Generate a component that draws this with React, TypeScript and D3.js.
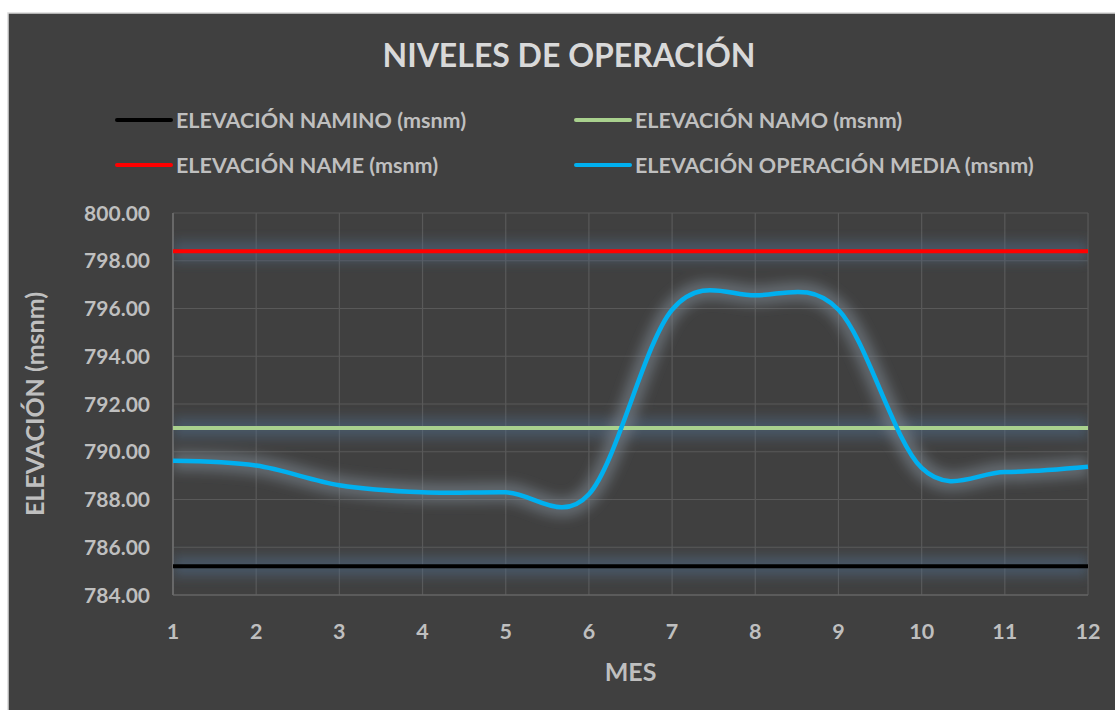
import React from "react";
import * as d3 from "d3";

// Monthly operating levels of the reservoir (msnm)
const months = [1, 2, 3, 4, 5, 6, 7, 8, 9, 10, 11, 12];
const elevMedia = [789.62, 789.42, 788.6, 788.3, 788.3, 788.22, 795.95, 796.55, 795.95, 789.32, 789.15, 789.37];
const elevNamino = months.map(() => 785.2);
const elevNamo = months.map(() => 791.0);
const elevName = months.map(() => 798.4);
const yTicks = [784, 786, 788, 790, 792, 794, 796, 798, 800];

const seriesList = [
  { name: "ELEVACIÓN NAMINO (msnm)", values: elevNamino, color: "#000000", glow: "#4f6b8a", smooth: false },
  { name: "ELEVACIÓN NAMO (msnm)", values: elevNamo, color: "#a9d18e", glow: "#4f6b8a", smooth: false },
  { name: "ELEVACIÓN NAME (msnm)", values: elevName, color: "#ff0000", glow: "#4f6b8a", smooth: false },
  { name: "ELEVACIÓN OPERACIÓN MEDIA (msnm)", values: elevMedia, color: "#00b0f0", glow: "#7d8894", smooth: true },
];

const W = 1115;
const H = 710;
const plot = { left: 173, right: 1088, top: 213, bottom: 595 };
const FONT = "Lato, 'Open Sans', sans-serif";
const TXT = "#bfbfbf";

export default function App() {
  const x = d3.scaleLinear().domain([1, 12]).range([plot.left, plot.right]);
  const y = d3.scaleLinear().domain([784, 800]).range([plot.bottom, plot.top]);

  const mkLine = (smooth: boolean) =>
    d3
      .line<number>()
      .x((_, i) => x(months[i]))
      .y((v) => y(v))
      .curve(smooth ? d3.curveCardinal.tension(0) : d3.curveLinear);

  // legend layout: two columns, two rows
  const legendPos = [
    { lx: 117, ly: 120 },
    { lx: 576, ly: 120 },
    { lx: 117, ly: 165 },
    { lx: 576, ly: 165 },
  ];

  return (
    <svg
      width={W}
      height={H}
      style={{ position: "fixed", left: 0, top: 0, background: "#ffffff" }}
    >
      <defs>
        <filter id="glowBlur" x="-10%" y="-200%" width="120%" height="500%">
          <feGaussianBlur stdDeviation="6" />
        </filter>
        <clipPath id="plotClip">
          <rect x={plot.left} y={0} width={plot.right - plot.left} height={H} />
        </clipPath>
      </defs>

      <rect x={8} y={13} width={W} height={H} fill="#404040" stroke="#d9d9d9" strokeWidth={1.5} />

      <text
        x={569}
        y={67}
        textAnchor="middle"
        fill="#d9d9d9"
        fontFamily={FONT}
        fontWeight={700}
        fontSize={32}
      >
        NIVELES DE OPERACIÓN
      </text>

      {/* legend */}
      {seriesList.map((s, i) => {
        const p = legendPos[i];
        return (
          <g key={s.name}>
            <line
              x1={p.lx}
              x2={p.lx + 54}
              y1={p.ly}
              y2={p.ly}
              stroke={s.color}
              strokeWidth={4}
              strokeLinecap="round"
            />
            <text
              x={p.lx + 59}
              y={p.ly + 8}
              fill={TXT}
              fontFamily={FONT}
              fontWeight={700}
              fontSize={21.5}
            >
              {s.name}
            </text>
          </g>
        );
      })}

      {/* grid */}
      {yTicks.map((t) => (
        <line key={"gy" + t} x1={plot.left} x2={plot.right} y1={y(t)} y2={y(t)} stroke="#595959" strokeWidth={1.2} />
      ))}
      {months.map((m) => (
        <line key={"gx" + m} x1={x(m)} x2={x(m)} y1={plot.top} y2={plot.bottom} stroke="#595959" strokeWidth={1.2} />
      ))}
      <line x1={plot.left} x2={plot.left} y1={plot.top} y2={plot.bottom} stroke="#7a7a7a" strokeWidth={1.2} />
      <line x1={plot.left} x2={plot.right} y1={plot.bottom} y2={plot.bottom} stroke="#6a6a6a" strokeWidth={1.2} />

      {/* glow under the series */}
      <g clipPath="url(#plotClip)" filter="url(#glowBlur)">
        {seriesList.map((s) => (
          <path
            key={"glow" + s.name}
            d={mkLine(s.smooth)(s.values) || ""}
            fill="none"
            stroke={s.glow}
            strokeOpacity={s.smooth ? 0.55 : 0.5}
            strokeWidth={20}
          />
        ))}
      </g>

      {/* series */}
      {seriesList.map((s) => (
        <path
          key={"ln" + s.name}
          d={mkLine(s.smooth)(s.values) || ""}
          fill="none"
          stroke={s.color}
          strokeWidth={s.smooth ? 4.5 : 4}
          strokeLinecap="butt"
        />
      ))}

      {/* y axis labels */}
      {yTicks.map((t) => (
        <text
          key={"yl" + t}
          x={150}
          y={y(t) + 7.5}
          textAnchor="end"
          fill={TXT}
          fontFamily={FONT}
          fontWeight={700}
          fontSize={21}
        >
          {t.toFixed(2)}
        </text>
      ))}

      {/* x axis labels */}
      {months.map((m) => (
        <text
          key={"xl" + m}
          x={x(m)}
          y={638.5}
          textAnchor="middle"
          fill={TXT}
          fontFamily={FONT}
          fontWeight={700}
          fontSize={21.5}
        >
          {m}
        </text>
      ))}

      <text
        x={(plot.left + plot.right) / 2}
        y={681}
        textAnchor="middle"
        fill={TXT}
        fontFamily={FONT}
        fontWeight={700}
        fontSize={25}
      >
        MES
      </text>

      <text
        transform={`translate(44, ${(plot.top + plot.bottom) / 2}) rotate(-90)`}
        textAnchor="middle"
        fill={TXT}
        fontFamily={FONT}
        fontWeight={700}
        fontSize={25}
      >
        ELEVACIÓN (msnm)
      </text>
    </svg>
  );
}
